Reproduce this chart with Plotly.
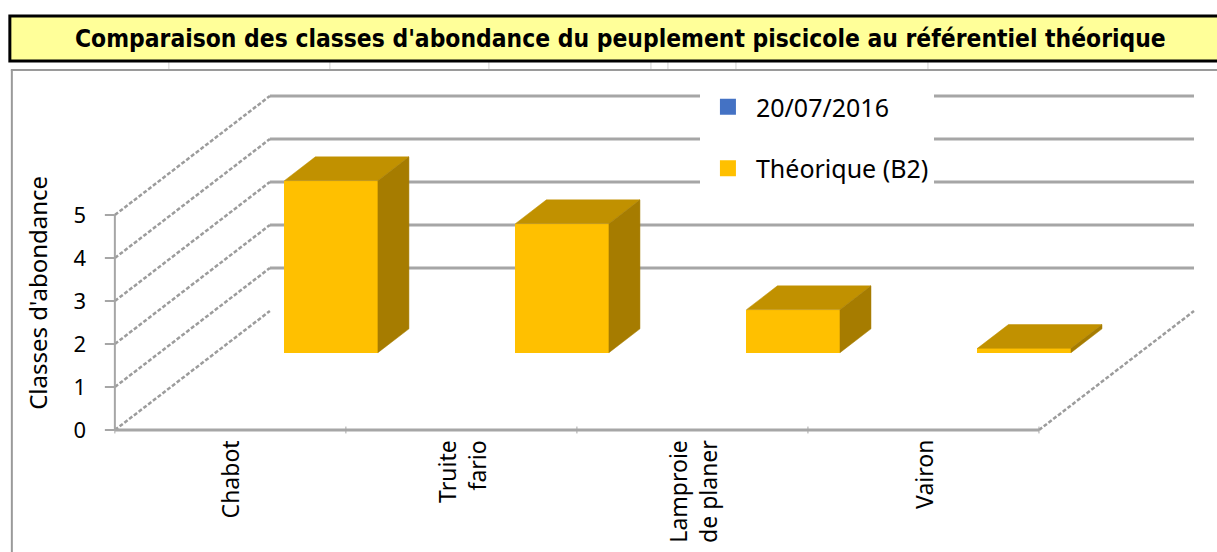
import plotly.graph_objects as go

# ---------------- data ----------------
categories = ["Chabot", "Truite<br>fario", "Lamproie<br>de planer", "Vairon"]
obs_2016 = [None, None, None, None]          # 20/07/2016 (no bars drawn)
theorique_b2 = [4, 3, 1, 0.1]                # Théorique (B2)
y_ticks = [0, 1, 2, 3, 4, 5]
series_names = ["20/07/2016", "Théorique (B2)"]
title_text = "Comparaison des classes d'abondance du peuplement piscicole au référentiel théorique"
y_title = "Classes d'abondance"

# ---------------- styling / 3D projection parameters ----------------
PX_X = 231.0            # pixels per category
PX_Y = 43.0             # pixels per class unit
DX = 155.0 / PX_X       # oblique depth offset (x units)
DY = 119.0 / PX_Y       # oblique depth offset (y units)
D_FRONT = 0.65          # depth of the bar row front face
D_BAR = 0.2             # bar depth
BAR_W = 0.405
FRONT = "#FFC000"
TOP = "#C19100"
SIDE = "#A67C00"
BLUE = "#4472C4"
GRID = "#A6A6A6"
DIAG = "#9C9C9C"
FONT = "Noto Sans"

W, H = 1217, 552
X0_PIX, Y0_PIX = 115.0, 430.0
XMIN, XMAX = -0.06, (1207 - X0_PIX) / PX_X
YMIN, YMAX = -10 / PX_Y, (Y0_PIX - 75) / PX_Y
L = X0_PIX + XMIN * PX_X
R = X0_PIX + XMAX * PX_X
T = Y0_PIX - YMAX * PX_Y
B = Y0_PIX - YMIN * PX_Y


def px(p):
    return (p - L) / (R - L)


def py(p):
    return (B - p) / (B - T)


n = len(categories)
centers = [i + 0.5 for i in range(n)]
fig = go.Figure()

# ---------------- walls, gridlines, axes (shapes below traces) ----------------
shapes = []
for k in y_ticks[1:]:
    shapes.append(dict(type="line", xref="x", yref="y", layer="below",
                       x0=DX, y0=k + DY, x1=n + DX, y1=k + DY,
                       line=dict(color=GRID, width=3)))
for k in y_ticks:
    shapes.append(dict(type="line", xref="x", yref="y", layer="below",
                       x0=0, y0=k, x1=DX, y1=k + DY,
                       line=dict(color=DIAG, width=2.5, dash="4px,2px")))
shapes.append(dict(type="line", xref="x", yref="y", layer="below",
                   x0=n, y0=0, x1=n + DX, y1=DY,
                   line=dict(color=DIAG, width=2.5, dash="4px,2px")))
shapes.append(dict(type="line", xref="x", yref="y", layer="below",
                   x0=0, y0=0, x1=0, y1=max(y_ticks),
                   line=dict(color=GRID, width=2)))
for k in y_ticks:
    shapes.append(dict(type="line", xref="x", yref="y", layer="below",
                       x0=-10 / PX_X, y0=k, x1=0, y1=k,
                       line=dict(color=GRID, width=2)))
shapes.append(dict(type="line", xref="x", yref="y", layer="below",
                   x0=0, y0=0, x1=n, y1=0,
                   line=dict(color=GRID, width=3)))
for i in range(n + 1):
    shapes.append(dict(type="line", xref="x", yref="y", layer="below",
                       x0=i, y0=0.08, x1=i, y1=-0.08,
                       line=dict(color=GRID, width=1)))

# spreadsheet / chart decorations (paper coords)
for xc in [169, 330, 489, 651, 668, 736, 928]:
    shapes.append(dict(type="line", xref="paper", yref="paper",
                       x0=px(xc), x1=px(xc), y0=py(62), y1=py(70),
                       line=dict(color="#D0D0D0", width=1)))
shapes.append(dict(type="line", xref="paper", yref="paper",
                   x0=px(11), x1=px(1230), y0=py(70), y1=py(70),
                   line=dict(color="#9A9A9A", width=2)))
shapes.append(dict(type="line", xref="paper", yref="paper",
                   x0=px(12), x1=px(12), y0=py(70), y1=py(560),
                   line=dict(color="#9A9A9A", width=2)))
shapes.append(dict(type="rect", xref="paper", yref="paper",
                   x0=px(10), x1=px(1235), y0=py(61), y1=py(16),
                   fillcolor="#FFFF99", line=dict(color="black", width=3)))

# ---------------- bars ----------------
base = D_FRONT * DY
bar_x = [c + D_FRONT * DX for c in centers]

fig.add_trace(go.Bar(x=bar_x, y=obs_2016, base=base, width=BAR_W,
                     marker=dict(color=BLUE, line=dict(width=0)),
                     name=series_names[0], showlegend=False))
fig.add_trace(go.Bar(x=bar_x, y=theorique_b2, base=base, width=BAR_W,
                     marker=dict(color=FRONT, line=dict(width=0)),
                     name=series_names[1], showlegend=False))

bdx, bdy = D_BAR * DX, D_BAR * DY
for xc, v in zip(bar_x, theorique_b2):
    xl, xr = xc - BAR_W / 2, xc + BAR_W / 2
    top = base + v
    fig.add_trace(go.Scatter(
        x=[xl, xr, xr + bdx, xl + bdx, xl],
        y=[top, top, top + bdy, top + bdy, top],
        mode="lines", fill="toself", fillcolor=TOP,
        line=dict(color=TOP, width=0.5), showlegend=False, hoverinfo="skip"))
    fig.add_trace(go.Scatter(
        x=[xr, xr, xr + bdx, xr + bdx, xr],
        y=[base, top, top + bdy, base + bdy, base],
        mode="lines", fill="toself", fillcolor=SIDE,
        line=dict(color=SIDE, width=0.5), showlegend=False, hoverinfo="skip"))

# legend entries (square markers)
for name, col, grp in [(series_names[0], BLUE, "a"), (series_names[1], FRONT, "b")]:
    fig.add_trace(go.Scatter(x=[None], y=[None], mode="markers", name=name,
                             legendgroup=grp,
                             marker=dict(symbol="square", size=16, color=col)))

# ---------------- annotations ----------------
annotations = [
    dict(text="<b>" + title_text + "</b>", xref="paper", yref="paper",
         x=px(621), y=py(38), xanchor="center", yanchor="middle", showarrow=False,
         font=dict(family="DejaVu Sans Condensed", size=24.4, color="black")),
    dict(text=y_title, xref="paper", yref="paper", x=px(37), y=py(293),
         xanchor="center", yanchor="middle", textangle=-90, showarrow=False,
         font=dict(family=FONT, size=24, color="black")),
]
for c, lab in zip(centers, categories):
    annotations.append(dict(text=lab, xref="x", yref="y", x=c, y=0, yshift=-8,
                            xanchor="center", yanchor="top", textangle=-90,
                            align="right", showarrow=False,
                            font=dict(family=FONT, size=23, color="black")))

fig.update_layout(
    width=W, height=H,
    margin=dict(l=L, r=W - R, t=T, b=H - B, pad=0),
    paper_bgcolor="white", plot_bgcolor="rgba(0,0,0,0)",
    barmode="overlay", bargap=0,
    shapes=shapes, annotations=annotations,
    xaxis=dict(range=[XMIN, XMAX], visible=False, fixedrange=True),
    yaxis=dict(range=[YMIN, YMAX], tickvals=y_ticks, ticks="", showgrid=False,
               zeroline=False, showline=False, ticklabelstandoff=14,
               tickfont=dict(family=FONT, size=22, color="black")),
    legend=dict(x=px(700), y=py(84), xanchor="left", yanchor="top",
                bgcolor="white", font=dict(family=FONT, size=25, color="black"),
                traceorder="grouped", tracegroupgap=26, itemwidth=46,
                borderwidth=0),
    showlegend=True,
)

fig.write_html("out.html", config={"displayModeBar": False},
               post_script="document.body.style.margin='0';")
